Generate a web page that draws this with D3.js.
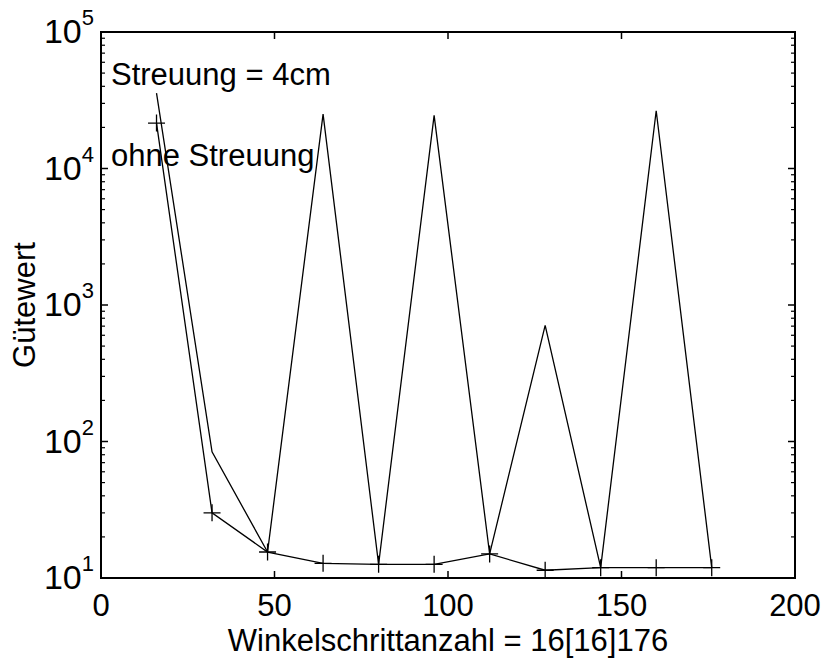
<!DOCTYPE html>
<html>
<head>
<meta charset="utf-8">
<script src="https://cdn.jsdelivr.net/npm/d3@7"></script>
<style>
  html, body { margin: 0; padding: 0; background: #fff; }
  svg { display: block; font-family: "Liberation Sans", Arial, sans-serif; }
</style>
</head>
<body>
<svg id="chart" width="823" height="661"></svg>
<script>
// Winkelschrittanzahl 16[16]176
const steps = [16, 32, 48, 64, 80, 96, 112, 128, 144, 160, 176];
// Gütewert mit Streuung = 4cm
const mitStreuung = [35700, 84, 15.5, 25000, 12.6, 24500, 15.0, 710, 11.9, 26500, 11.9];
// Gütewert ohne Streuung
const ohneStreuung = [21500, 30, 15.5, 12.8, 12.6, 12.6, 15.0, 11.4, 11.9, 11.9, 11.9];

const xTicks = [0, 50, 100, 150, 200];
const yExponents = [1, 2, 3, 4, 5];
const seriesLabels = ["Streuung = 4cm", "ohne Streuung"];
const xTitle = "Winkelschrittanzahl = 16[16]176";
const yTitle = "Gütewert";

const svg = d3.select("#chart");
const plotLeft = 101, plotRight = 795, plotTop = 32, plotBottom = 578;

const x = d3.scaleLinear().domain([0, 200]).range([plotLeft, plotRight]);
const y = d3.scaleLog().domain([10, 1e5]).range([plotBottom, plotTop]);

const fontSize = 31;

// minor ticks on the log axis (2..9 per decade)
const minor = [];
for (let e = 1; e < 5; e++) for (let m = 2; m <= 9; m++) minor.push(m * Math.pow(10, e));

const axes = svg.append("g").attr("stroke", "#000").attr("fill", "none");

// frame
axes.append("rect")
  .attr("x", plotLeft).attr("y", plotTop)
  .attr("width", plotRight - plotLeft).attr("height", plotBottom - plotTop)
  .attr("stroke-width", 2);

// x ticks, inward on bottom and top
xTicks.forEach(t => {
  axes.append("line").attr("x1", x(t)).attr("x2", x(t)).attr("y1", plotBottom).attr("y2", plotBottom - 7).attr("stroke-width", 1.5);
  axes.append("line").attr("x1", x(t)).attr("x2", x(t)).attr("y1", plotTop).attr("y2", plotTop + 7).attr("stroke-width", 1.5);
});

// y major ticks
yExponents.forEach(e => {
  const v = Math.pow(10, e);
  axes.append("line").attr("x1", plotLeft).attr("x2", plotLeft + 7).attr("y1", y(v)).attr("y2", y(v)).attr("stroke-width", 1.5);
  axes.append("line").attr("x1", plotRight).attr("x2", plotRight - 7).attr("y1", y(v)).attr("y2", y(v)).attr("stroke-width", 1.5);
});

// y minor ticks
minor.forEach(v => {
  axes.append("line").attr("x1", plotLeft).attr("x2", plotLeft + 4).attr("y1", y(v)).attr("y2", y(v)).attr("stroke-width", 1.2);
  axes.append("line").attr("x1", plotRight).attr("x2", plotRight - 4).attr("y1", y(v)).attr("y2", y(v)).attr("stroke-width", 1.2);
});

// x tick labels
svg.append("g").selectAll("text").data(xTicks).join("text")
  .attr("x", d => x(d)).attr("y", plotBottom + 38)
  .attr("text-anchor", "middle")
  .attr("font-size", fontSize)
  .text(d => d);

// y tick labels as powers of ten
const yl = svg.append("g").selectAll("text").data(yExponents).join("text")
  .attr("x", 94).attr("y", d => y(Math.pow(10, d)) + 11)
  .attr("text-anchor", "end")
  .attr("font-size", 34);
yl.append("tspan").text("10");
yl.append("tspan").attr("dy", -18).attr("font-size", 22).text(d => d);

// axis titles
svg.append("text")
  .attr("x", (plotLeft + plotRight) / 2).attr("y", 651)
  .attr("text-anchor", "middle")
  .attr("font-size", fontSize)
  .text(xTitle);

svg.append("text")
  .attr("transform", `translate(35,${(plotTop + plotBottom) / 2}) rotate(-90)`)
  .attr("text-anchor", "middle")
  .attr("font-size", fontSize)
  .text(yTitle);

// data lines
const line = d3.line().x(d => x(d[0])).y(d => y(d[1]));
const plot = svg.append("g").attr("fill", "none").attr("stroke", "#000").attr("stroke-width", 1.3);

plot.append("path").attr("d", line(steps.map((s, i) => [s, mitStreuung[i]])));
plot.append("path").attr("d", line(steps.map((s, i) => [s, ohneStreuung[i]])));

// plus markers on the series without scatter
const ms = 8.5;
plot.selectAll("path.mk").data(steps.map((s, i) => [s, ohneStreuung[i]])).join("path")
  .attr("class", "mk")
  .attr("d", d => {
    const px = x(d[0]), py = y(d[1]);
    return `M${px - ms},${py}H${px + ms}M${px},${py - ms}V${py + ms}`;
  });

// in-plot labels
svg.append("text").attr("x", 111).attr("y", 85).attr("font-size", 31).text(seriesLabels[0]);
svg.append("text").attr("x", 111).attr("y", 166).attr("font-size", 31).text(seriesLabels[1]);
</script>
</body>
</html>
